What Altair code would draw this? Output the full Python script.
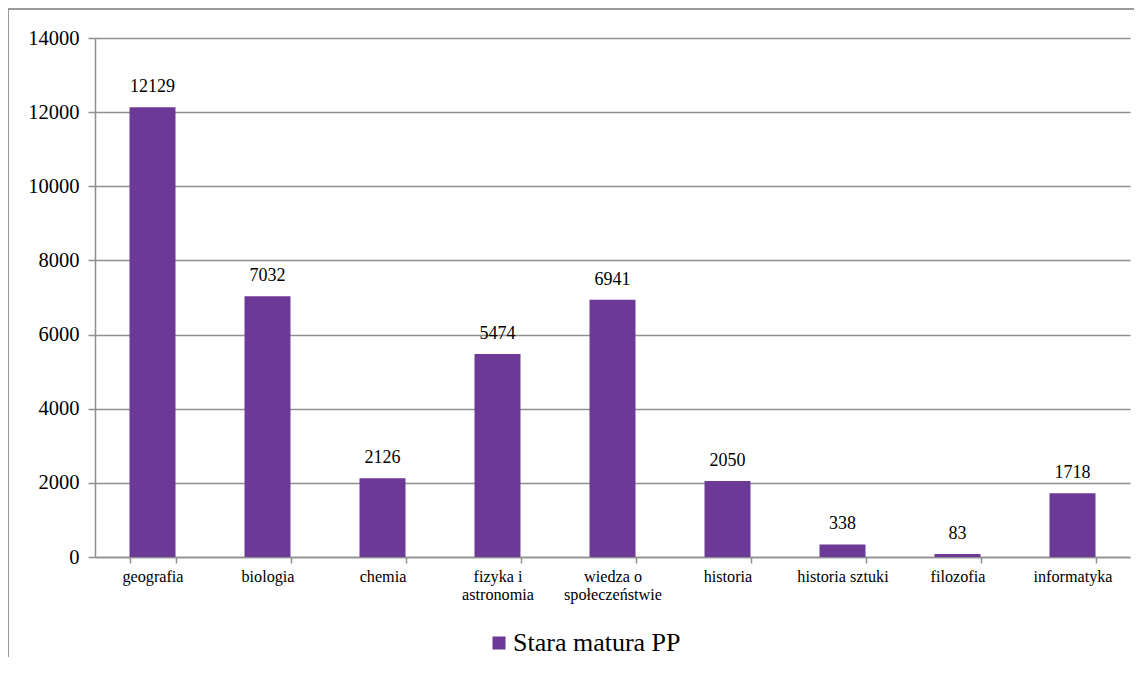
import altair as alt
import pandas as pd

categories = ["geografia", "biologia", "chemia", "fizyka i astronomia",
              "wiedza o społeczeństwie", "historia", "historia sztuki",
              "filozofia", "informatyka"]
values = [12129, 7032, 2126, 5474, 6941, 2050, 338, 83, 1718]
series_name = "Stara matura PP"
y_ticks = [0, 2000, 4000, 6000, 8000, 10000, 12000, 14000]

df = pd.DataFrame({"kategoria": categories, "wartosc": values, "seria": series_name})

FONT = "'Liberation Serif', 'Times New Roman', Times, serif"
PURPLE = "#6C3A96"
GRID = "#8f8f8f"

label_expr = ("datum.value == 'fizyka i astronomia' ? ['fizyka i', 'astronomia'] : "
              "datum.value == 'wiedza o społeczeństwie' ? ['wiedza o', 'społeczeństwie'] : datum.value")

x = alt.X("kategoria:N", sort=categories, title=None,
          scale=alt.Scale(paddingInner=0.6, paddingOuter=0.3),
          axis=alt.Axis(labelAngle=0, labelExpr=label_expr, labelFont=FONT,
                        labelFontSize=16.2, labelColor="#000", labelPadding=5,
                        tickBand="extent", tickSize=6, tickColor=GRID, domainColor=GRID,
                        domainWidth=1.5, tickWidth=1.5, labelLineHeight=18, grid=False))
y = alt.Y("wartosc:Q", title=None,
          scale=alt.Scale(domain=[0, 14000], nice=False),
          axis=alt.Axis(values=y_ticks, format="d", labelFont=FONT, labelFontSize=20.5,
                        labelColor="#000", labelPadding=9, tickSize=7, tickColor=GRID,
                        domainColor=GRID, domainWidth=1.5, tickWidth=1.5,
                        gridColor=GRID, gridWidth=1.5))

bars = alt.Chart(df).mark_bar(size=46).encode(
    x=x, y=y,
    color=alt.Color("seria:N", title=None,
                    scale=alt.Scale(domain=[series_name], range=[PURPLE]),
                    legend=alt.Legend(orient="none", legendX=391, legendY=592,
                                      symbolType="square", symbolSize=170,
                                      symbolStrokeWidth=0, labelFont=FONT,
                                      labelFontSize=26, labelColor="#000",
                                      labelLimit=400, symbolOpacity=1, labelOffset=1)),
)

text = alt.Chart(df).mark_text(font=FONT, fontSize=18, color="#000",
                               baseline="bottom", dy=-11).encode(
    x=alt.X("kategoria:N", sort=categories),
    y="wartosc:Q",
    text="wartosc:Q",
)

border = alt.Chart(df).mark_rect(fill=None, stroke="#9a9a9a", strokeWidth=1.5).encode(
    x=alt.value(-87), x2=alt.value(1300), y=alt.value(-29), y2=alt.value(900)
)

chart = alt.layer(border, bars, text).properties(
    width=1035, height=519,
    autosize=alt.AutoSizeParams(type="none"),
    padding={"left": 87, "top": 30, "right": 4, "bottom": 100},
).configure_view(stroke=None)

chart.save("out.html", embed_options={"renderer": "svg", "actions": False})
